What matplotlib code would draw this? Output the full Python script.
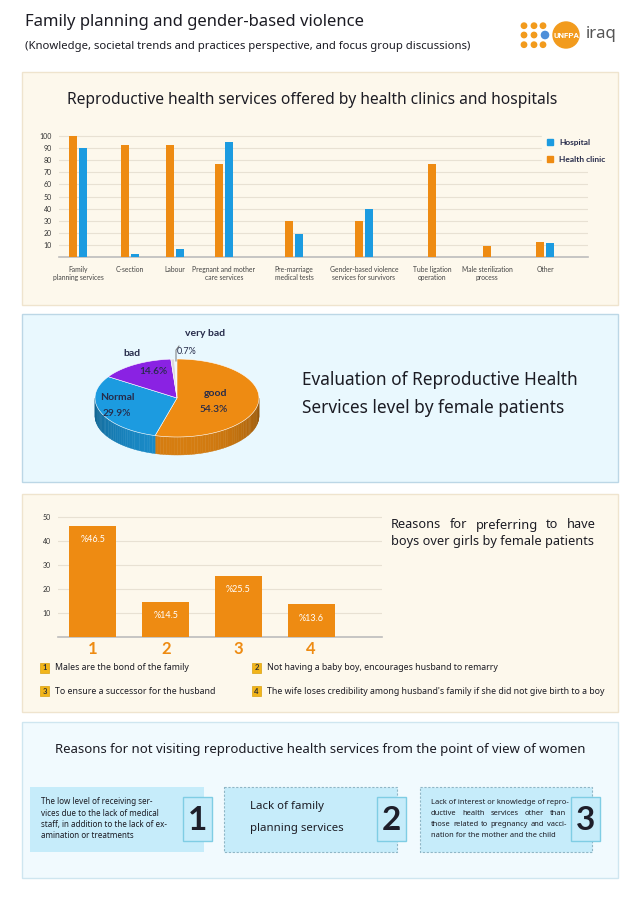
import matplotlib
matplotlib.use("Agg")
import matplotlib.pyplot as plt
import numpy as np
from matplotlib.patches import Rectangle, Polygon, Circle

# Colour scheme
ORANGE = "#EE8B12"
BLUE = "#1C9BE0"
PURPLE = "#8A22E3"
TEXT = "#1C1C24"
NAVY = "#262B4A"
CREAM = "#FDF8EC"
CREAM_EDGE = "#EFE4CE"
SKY = "#E9F8FE"
SKY_EDGE = "#BCD7E6"
PALE = "#F1FAFE"
PALE_EDGE = "#CFE6F0"
BOX = "#C6ECFA"
YELLOW = "#F2B51A"

W, H = 635, 897
FONT = "Noto Sans"
CHART_FONT = "Lato"

# ---- data ----
SERVICES = ["Family\nplanning services", "C-section", "Labour",
            "Pregnant and mother\ncare services", "Pre-marriage\nmedical tests",
            "Gender-based violence\nservices for survivors", "Tube ligation\noperation",
            "Male sterilization\nprocess", "Other"]
CLINIC = [100, 92, 92, 77, 30, 30, 77, 9, 13]
HOSPITAL = [90, 3, 7, 95, 19, 40, 0, 0, 12]

RATINGS = ["good", "Normal", "bad", "very bad"]
RATING_PCT = [54.3, 29.9, 14.6, 0.7]
RATING_COLORS = [ORANGE, BLUE, PURPLE, "#DADADA"]

REASON_IDS = ["1", "2", "3", "4"]
REASON_PCT = [46.5, 14.5, 25.5, 13.6]
REASON_TEXT = ["Males are the bond of the family",
               "Not having a baby boy, encourages husband to remarry",
               "To ensure a successor for the husband",
               "The wife loses credibility among husband's family if she did not give birth to a boy"]

BARRIER_IDS = ["1", "2", "3"]
BARRIER_LINES = [
    ["The low level of receiving ser-", "vices due to the lack of medical",
     "staff, in addition to the lack of ex-", "amination or treatments"],
    ["Lack of family", "planning services"],
    ["Lack of interest or knowledge of repro-", "ductive health services other than",
     "those related to pregnancy and vacci-", "nation for the mother and the child"],
]

# ---- layout (pixels) ----
SERVICE_SLOTS = [78, 130, 175, 224, 294, 364, 432, 487, 545]

fig = plt.figure(figsize=(W / 100, H / 100), dpi=100)
fig.patch.set_facecolor("white")
bg = fig.add_axes([0, 0, 1, 1], zorder=0)
bg.set_xlim(0, W)
bg.set_ylim(H, 0)
bg.axis("off")
renderer = fig.canvas.get_renderer()


def px_axes(left, top, right, bottom):
    return fig.add_axes([left / W, 1 - bottom / H, (right - left) / W, (bottom - top) / H],
                        zorder=2, facecolor="none")


def text_width(s, **kw):
    t = bg.text(0, 0, s, **kw)
    w = t.get_window_extent(renderer).width
    t.remove()
    return w


def justify(lines, x0, x1, y0, step, **kw):
    # y0 is the baseline of the first line; last line stays ragged
    for k, line in enumerate(lines):
        y = y0 + k * step
        words = line.split()
        if (k == len(lines) - 1 or len(words) < 2
                or text_width(line, **kw) >= x1 - x0):
            bg.text(x0, y, line, ha="left", va="baseline", **kw)
            continue
        widths = [text_width(w, **kw) for w in words]
        gap = (x1 - x0 - sum(widths)) / (len(words) - 1)
        x = x0
        for w, wd in zip(words, widths):
            bg.text(x, y, w, ha="left", va="baseline", **kw)
            x += wd + gap


# ---- header ----
bg.text(25, 22, "Family planning and gender-based violence", fontsize=12, family=FONT,
        color=TEXT, va="center")
bg.text(25, 46, "(Knowledge, societal trends and practices perspective, and focus group discussions)",
        fontsize=8.1, family=FONT, color=TEXT, va="center")
for cxd in (524, 534, 543):
    for cyd in (25.7, 35, 44.7):
        if cxd == 543 and cyd == 35:
            bg.add_patch(Circle((545, 35), 3.6, color="#4E8FD9"))
        else:
            bg.add_patch(Circle((cxd, cyd), 2.7, color="#F29B1D"))
bg.add_patch(Circle((566, 35), 13, color="#F29B1D"))
bg.text(566, 35.5, "UNFPA", fontsize=5.8, weight="bold", color="white", ha="center",
        va="center", family="Roboto")
bg.text(586, 34, "iraq", fontsize=12, color="#555555", va="center", family=FONT)

# ---- panels ----
panels = [(72, 305, CREAM, CREAM_EDGE), (314, 482, SKY, SKY_EDGE),
          (494, 712, CREAM, CREAM_EDGE), (722, 878, PALE, PALE_EDGE)]
for top, bottom, fc, ec in panels:
    bg.add_patch(Rectangle((22, top), 596, bottom - top, facecolor=fc, edgecolor=ec, lw=1))

# ---- panel 1: services bar chart ----
bg.text(312, 100, "Reproductive health services offered by health clinics and hospitals",
        fontsize=11.2, family=FONT, color=TEXT, ha="center", va="center")
ax1 = px_axes(59, 129.6, 588, 257.4)
ax1.set_xlim(59, 588)
ax1.set_ylim(0, 105)
clinic = np.array(CLINIC)
hospital = np.array(HOSPITAL)
slots = np.array(SERVICE_SLOTS, dtype=float)
offset = np.where(hospital > 0, 4.8, 0.0)
ax1.bar(slots - offset, clinic, 8, color=ORANGE, zorder=3, label="Health clinic")
ax1.bar(slots[hospital > 0] + 4.8, hospital[hospital > 0], 8, color=BLUE, zorder=3,
        label="Hospital")
ax1.set_yticks(range(10, 101, 10))
ax1.set_xticks(slots, SERVICES)
ax1.tick_params(axis="y", length=0, pad=5, labelsize=5, labelcolor="#333333")
ax1.tick_params(axis="x", length=0, pad=6, labelsize=4.9, labelcolor="#444444")
for lab in ax1.get_xticklabels() + ax1.get_yticklabels():
    lab.set_family(CHART_FONT)
ax1.yaxis.grid(True, color="#E8E1D3", lw=0.8)
ax1.set_axisbelow(True)
for s in ("top", "right", "left"):
    ax1.spines[s].set_visible(False)
ax1.spines["bottom"].set_color("#BDBDBD")
ax1.spines["bottom"].set_linewidth(1.2)
handles = [Rectangle((0, 0), 1, 1, color=BLUE), Rectangle((0, 0), 1, 1, color=ORANGE)]
ax1.legend(handles, ["Hospital", "Health clinic"], loc="upper left",
           bbox_to_anchor=(542 / W, 1 - 134 / H), bbox_transform=fig.transFigure,
           frameon=True, facecolor=CREAM, edgecolor=CREAM, framealpha=1, fancybox=False,
           prop={"size": 6, "weight": "bold", "family": CHART_FONT}, handlelength=0.75,
           handleheight=0.75, labelspacing=1.2, borderpad=0.6, borderaxespad=0,
           handletextpad=0.7, labelcolor=NAVY)

# ---- panel 2: 3D pie ----
cx, cy, rx, ry, depth = 177, 398, 82, 39, 18


def ell(t):
    r = np.radians(t)
    return cx + rx * np.cos(r), cy - ry * np.sin(r)


def shade(color, f):
    rgb = np.array(matplotlib.colors.to_rgb(color))
    return tuple(np.clip(rgb * f, 0, 1))


angles = 90 - np.concatenate([[0], np.cumsum(RATING_PCT)]) * 3.6
# side walls (front half only)
for i, col in enumerate(RATING_COLORS):
    lo, hi = angles[i + 1], angles[i]
    for k in (-1, 0, 1):
        a, b = max(lo, -180 + 360 * k), min(hi, 360 * k)
        if a >= b:
            continue
        seg = np.linspace(a, b, int((b - a) / 2) + 2)
        for t0, t1 in zip(seg[:-1], seg[1:]):
            x0, y0 = ell(t0)
            x1, y1 = ell(t1)
            f = 0.62 + 0.28 * -np.sin(np.radians((t0 + t1) / 2))
            bg.add_patch(Polygon([(x0, y0), (x1, y1), (x1, y1 + depth), (x0, y0 + depth)],
                                 closed=True, facecolor=shade(col, f), edgecolor=shade(col, f),
                                 lw=0.3))
# top face
for i, col in enumerate(RATING_COLORS):
    t = np.linspace(angles[i], angles[i + 1], 120)
    xs, ys = ell(t)
    pts = [(cx, cy)] + list(zip(xs, ys))
    bg.add_patch(Polygon(pts, closed=True, facecolor=col, edgecolor="white", lw=0.4))

PIE_NAME_XY = [(215, 394), (117, 398), (132, 354), (205, 334)]
PIE_PCT_XY = [(214, 410), (117, 413), (153, 372), (187, 352)]
for i, name in enumerate(RATINGS):
    bg.text(*PIE_NAME_XY[i], name, fontsize=7.5, weight="bold", color=NAVY,
            ha="center", va="center", family=CHART_FONT)
    bg.text(*PIE_PCT_XY[i], f"{RATING_PCT[i]}%", fontsize=7.3 if i < 3 else 6.5,
            color=NAVY, ha="center", va="center", family=CHART_FONT,
            weight="semibold" if i < 3 else "normal")
bg.plot([176, 176, 179], [361, 350, 346], color="#777777", lw=0.7)

bg.text(302, 380, "Evaluation of Reproductive Health", fontsize=12.4, family=FONT,
        color=TEXT, va="center")
bg.text(302, 408, "Services level by female patients", fontsize=12.4, family=FONT,
        color=TEXT, va="center")

# ---- panel 3: reasons bar chart ----
ax3 = px_axes(58, 512.5, 381.7, 636.7)
ax3.set_ylim(0, 52)
ax3.set_xlim(-0.481, 3.97)
xs3 = np.arange(len(REASON_PCT))
ax3.bar(xs3, REASON_PCT, 0.646, color=ORANGE, zorder=3)
for x, v in zip(xs3, REASON_PCT):
    ax3.annotate(f"%{v}", (x, v), xytext=(0, -10), textcoords="offset points", ha="center",
                 va="center", color="white", fontsize=6.5, family=CHART_FONT)
ax3.set_yticks(range(10, 51, 10))
ax3.set_xticks(xs3, REASON_IDS)
ax3.tick_params(axis="y", length=0, pad=5, labelsize=5, labelcolor="#333333")
ax3.tick_params(axis="x", length=0, pad=3, labelsize=12, labelcolor=ORANGE)
for lab in ax3.get_xticklabels():
    lab.set_weight("bold")
    lab.set_family(CHART_FONT)
for lab in ax3.get_yticklabels():
    lab.set_family(CHART_FONT)
ax3.yaxis.grid(True, color="#E8E1D3", lw=0.8)
ax3.set_axisbelow(True)
for s in ("top", "right", "left"):
    ax3.spines[s].set_visible(False)
ax3.spines["bottom"].set_color("#BDBDBD")
ax3.spines["bottom"].set_linewidth(1.2)

justify(["Reasons for preferring to have", "boys over girls by female patients"],
        391, 596, 528.5, 16, fontsize=9.2, family=FONT, color=TEXT)

for i, (num, txt) in enumerate(zip(REASON_IDS, REASON_TEXT)):
    x0 = (40, 252)[i % 2]
    y0 = (668, 691)[i // 2]
    bg.add_patch(Rectangle((x0, y0 - 5), 9, 10, facecolor=YELLOW, edgecolor="#D9A010", lw=0.5))
    bg.text(x0 + 4.5, y0, num, fontsize=5.5, weight="bold", color="#333333",
            ha="center", va="center", family=CHART_FONT)
    bg.text(x0 + 15, y0, txt, fontsize=6.3, color=TEXT, va="center", family=FONT)

# ---- panel 4: barriers ----
bg.text(320, 749, "Reasons for not visiting reproductive health services from the point of view of women",
        fontsize=9.5, family=FONT, color=TEXT, ha="center", va="center")
BOX_X = [(30, 204), (224, 397), (420, 592)]
NUM_X = [(183, 212), (377, 406), (571, 600)]
for i, num in enumerate(BARRIER_IDS):
    l, r = BOX_X[i]
    if i == 0:
        bg.add_patch(Rectangle((l, 787), r - l, 65, facecolor=BOX, edgecolor="none"))
    else:
        bg.add_patch(Rectangle((l, 787), r - l, 65, facecolor=BOX, edgecolor="#8FB6C6",
                               lw=0.8, linestyle=(0, (2, 1.5))))
    nl, nr = NUM_X[i]
    bg.add_patch(Rectangle((nl, 797), nr - nl, 44, facecolor=BOX, edgecolor="#7FCDE4", lw=1))
    bg.text((nl + nr) / 2, 820, num, fontsize=24, weight="bold", color="#1E1E2A",
            ha="center", va="center", family=CHART_FONT)

for k, line in enumerate(BARRIER_LINES[0]):
    bg.text(41, 804.5 + 11 * k, line, fontsize=5.8, family=FONT, color=TEXT, va="baseline")
for k, line in enumerate(BARRIER_LINES[1]):
    bg.text(250, 806.5 + 21.5 * k, line, fontsize=8.2, family=FONT, color=TEXT, va="center")
justify(BARRIER_LINES[2], 431, 566, 803.5, 11.3, fontsize=5.4, family=FONT, color=TEXT)

fig.savefig("out.png", dpi=100, facecolor="white")
